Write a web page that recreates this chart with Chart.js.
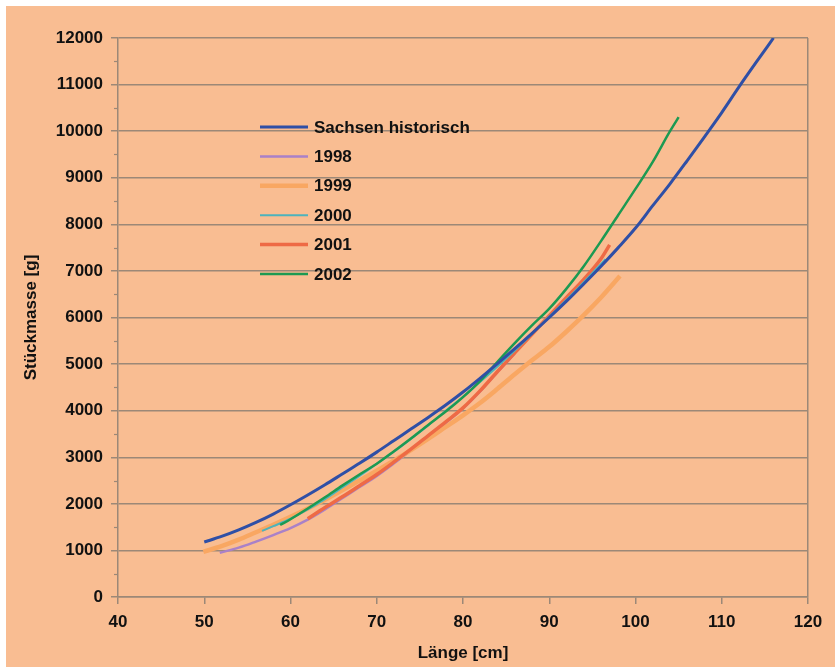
<!DOCTYPE html>
<html>
<head>
<meta charset="utf-8">
<script src="https://cdn.jsdelivr.net/npm/chart.js@4.4.1/dist/chart.umd.min.js"></script>
<style>
  html, body { margin: 0; padding: 0; background: #ffffff; }
  canvas { display: block; }
</style>
</head>
<body>
<canvas id="chart" width="835" height="667"></canvas>
<script>
// Länge [cm] / Stückmasse [g] per series
const lenHist = [50, 52, 54, 56, 58, 60, 62, 64, 66, 68, 70, 72, 74, 76, 78, 80, 82, 84, 86, 88, 90, 92, 94, 96, 98, 100, 102, 104, 106, 108, 110, 112, 114, 116];
const massHist = [1180, 1300, 1440, 1600, 1780, 1980, 2190, 2410, 2640, 2870, 3110, 3360, 3610, 3860, 4120, 4400, 4700, 5010, 5330, 5660, 6000, 6350, 6720, 7100, 7500, 7920, 8400, 8870, 9370, 9880, 10400, 10950, 11480, 12000];

const len1998 = [51.8, 54, 56, 58, 60, 62, 64, 66, 68, 70, 72, 74, 76, 78, 80, 82, 84, 86];
const mass1998 = [950, 1060, 1190, 1330, 1480, 1660, 1880, 2120, 2360, 2600, 2870, 3150, 3440, 3740, 4050, 4420, 4830, 5230];

const len1999 = [49.9, 52, 54, 56, 58, 60, 62, 64, 66, 68, 70, 72, 74, 76, 78, 80, 82, 84, 86, 88, 90, 92, 94, 96, 98.2];
const mass1999 = [970, 1090, 1230, 1390, 1550, 1720, 1900, 2090, 2290, 2500, 2710, 2930, 3160, 3400, 3650, 3900, 4170, 4470, 4780, 5080, 5370, 5700, 6050, 6430, 6890];

const len2000 = [56.7, 58, 60, 62, 64, 66, 68, 70, 72, 74, 76, 78, 80, 82, 84, 86, 88, 90, 92, 94, 96, 96.5];
const mass2000 = [1420, 1520, 1680, 1880, 2100, 2350, 2600, 2860, 3120, 3400, 3690, 4000, 4300, 4620, 4950, 5290, 5650, 6020, 6380, 6760, 7150, 7250];

const len2001 = [62, 64, 66, 68, 70, 72, 74, 76, 78, 80, 82, 84, 86, 88, 90, 92, 94, 96, 97];
const mass2001 = [1680, 1920, 2150, 2390, 2630, 2900, 3180, 3470, 3760, 4060, 4430, 4840, 5240, 5640, 6040, 6430, 6820, 7260, 7560];

const len2002 = [58.8, 60, 62, 64, 66, 68, 70, 72, 74, 76, 78, 80, 82, 84, 86, 88, 90, 92, 94, 96, 98, 100, 102, 104, 105];
const mass2002 = [1545, 1670, 1900, 2140, 2390, 2630, 2860, 3130, 3410, 3700, 3980, 4290, 4640, 5050, 5450, 5830, 6190, 6620, 7100, 7640, 8200, 8760, 9340, 10000, 10300];

const seriesNames = ['Sachsen historisch', '1998', '1999', '2000', '2001', '2002'];
const xTicks = [40, 50, 60, 70, 80, 90, 100, 110, 120];
const yTicks = [0, 1000, 2000, 3000, 4000, 5000, 6000, 7000, 8000, 9000, 10000, 11000, 12000];

const PEACH = '#F9BD92';
const GRID = '#9C8877';
const FONT = "'Liberation Sans', Arial, sans-serif";

function pairs(xs, ys) { return xs.map((x, i) => ({ x: x, y: ys[i] })); }

const seriesData = [
  { name: seriesNames[0], pts: pairs(lenHist, massHist), color: '#2F4FA6', width: 3 },
  { name: seriesNames[1], pts: pairs(len1998, mass1998), color: '#A981C8', width: 2.5 },
  { name: seriesNames[2], pts: pairs(len1999, mass1999), color: '#F9A762', width: 4.5 },
  { name: seriesNames[3], pts: pairs(len2000, mass2000), color: '#4DB3BC', width: 2 },
  { name: seriesNames[4], pts: pairs(len2001, mass2001), color: '#EE6A45', width: 3.5 },
  { name: seriesNames[5], pts: pairs(len2002, mass2002), color: '#1C9A52', width: 2.5 }
];

// draw order (lower = on top): blue, green, teal, red, orange, purple
const drawOrder = [0, 5, 4, 2, 3, 1];

const datasets = seriesData.map((s, i) => ({
  label: s.name,
  data: s.pts,
  borderColor: s.color,
  backgroundColor: s.color,
  borderWidth: s.width,
  pointRadius: 0,
  cubicInterpolationMode: 'monotone',
  fill: false,
  order: drawOrder[i]
}));

const pagePlugin = {
  id: 'page',
  beforeDraw(chart) {
    const ctx = chart.ctx;
    ctx.save();
    ctx.fillStyle = '#ffffff';
    ctx.fillRect(0, 0, chart.width, chart.height);
    ctx.fillStyle = PEACH;
    ctx.fillRect(6, 6, chart.width - 6, chart.height - 6);
    ctx.restore();
  }
};

const minorTicks = {
  id: 'minorTicks',
  afterDraw(chart) {
    const y = chart.scales.y;
    const ctx = chart.ctx;
    const left = chart.chartArea.left;
    ctx.save();
    ctx.strokeStyle = GRID;
    ctx.lineWidth = 1.2;
    for (let v = 500; v < 12000; v += 1000) {
      const py = Math.round(y.getPixelForValue(v)) + 0.5;
      ctx.beginPath();
      ctx.moveTo(left - 4, py);
      ctx.lineTo(left, py);
      ctx.stroke();
    }
    ctx.restore();
  }
};

const innerLegend = {
  id: 'innerLegend',
  afterDatasetsDraw(chart) {
    const ctx = chart.ctx;
    const x0 = 260, x1 = 308, tx = 314, y0 = 127, dy = 29.4;
    ctx.save();
    ctx.font = 'bold 17px ' + FONT;
    ctx.textBaseline = 'middle';
    ctx.textAlign = 'left';
    chart.data.datasets.forEach((ds, i) => {
      const yy = y0 + i * dy;
      ctx.strokeStyle = ds.borderColor;
      ctx.lineWidth = ds.borderWidth;
      ctx.beginPath();
      ctx.moveTo(x0, yy);
      ctx.lineTo(x1, yy);
      ctx.stroke();
      ctx.fillStyle = '#111111';
      ctx.fillText(ds.label, tx, yy + 1);
    });
    ctx.restore();
  }
};

new Chart(document.getElementById('chart'), {
  type: 'line',
  data: { datasets: datasets },
  plugins: [pagePlugin, minorTicks, innerLegend],
  options: {
    responsive: false,
    animation: false,
    devicePixelRatio: 1,
    layout: { padding: { left: 0, right: 27, top: 38, bottom: 0 } },
    plugins: {
      legend: { display: false },
      tooltip: { enabled: false }
    },
    scales: {
      x: {
        type: 'linear',
        min: 40,
        max: 120,
        afterBuildTicks(scale) { scale.ticks = xTicks.map(v => ({ value: v })); },
        afterFit(scale) { scale.height = 70; },
        ticks: {
          color: '#111111',
          font: { family: FONT, size: 17, weight: 'bold' },
          padding: 8,
          maxRotation: 0,
          callback: v => String(v)
        },
        grid: {
          color: ctx => (ctx.tick && ctx.tick.value === 120 ? GRID : 'rgba(0,0,0,0)'),
          lineWidth: 1.5,
          tickColor: GRID,
          tickLength: 7,
          drawOnChartArea: true
        },
        border: { color: GRID, width: 1.5 },
        title: {
          display: true,
          text: 'Länge [cm]',
          color: '#111111',
          font: { family: FONT, size: 17, weight: 'bold' },
          padding: { top: 4, bottom: 3 }
        }
      },
      y: {
        type: 'linear',
        min: 0,
        max: 12000,
        afterBuildTicks(scale) { scale.ticks = yTicks.map(v => ({ value: v })); },
        afterFit(scale) { scale.width = 118; },
        ticks: {
          color: '#111111',
          font: { family: FONT, size: 17, weight: 'bold' },
          padding: 8,
          callback: v => String(v)
        },
        grid: {
          color: GRID,
          lineWidth: 1.5,
          tickColor: GRID,
          tickLength: 7
        },
        border: { color: GRID, width: 1.5 },
        title: {
          display: true,
          text: 'Stückmasse [g]',
          color: '#111111',
          font: { family: FONT, size: 17, weight: 'bold' },
          padding: { top: 21, bottom: 4 }
        }
      }
    }
  }
});
</script>
</body>
</html>
